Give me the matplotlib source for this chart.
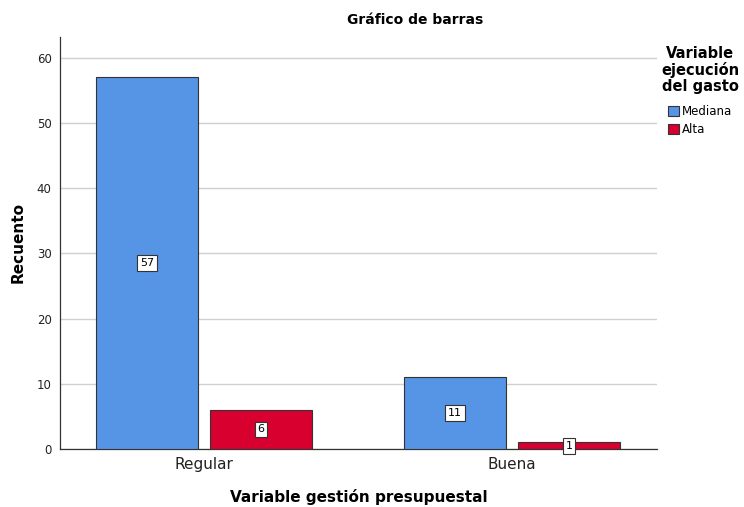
import matplotlib
matplotlib.use("Agg")
import matplotlib.pyplot as plt
from matplotlib.patches import Patch

categories = ["Regular", "Buena"]
series_names = ["Mediana", "Alta"]
mediana = [57, 11]
alta = [6, 1]
yticks = [0, 10, 20, 30, 40, 50, 60]

colors = ["#5694E5", "#D7002F"]

fig = plt.figure(figsize=(7.44, 5.07), dpi=100)
ax = fig.add_axes([60/744, 1-449/507, (657-60)/744, (449-37)/507])

x = list(range(len(categories)))
w = 102/308
off = 57/308
for vals, dx, col in [(mediana, -off, colors[0]), (alta, off, colors[1])]:
    xs = [xi + dx for xi in x]
    ax.bar(xs, vals, width=w, color=col, edgecolor="#333333", linewidth=0.8, zorder=3)
    for xi, v in zip(xs, vals):
        ax.text(xi, v/2, str(v), ha="center", va="center", fontsize=8, zorder=4,
                bbox=dict(boxstyle="square,pad=0.25", fc="white", ec="#333333", lw=0.8))

ax.set_xlim(-144/308, 1 + 145/308)
ax.set_ylim(0, 63.2)
ax.set_yticks(yticks)
ax.set_yticklabels([str(t) for t in yticks], fontsize=8.5, color="#222222")
ax.set_xticks(x)
ax.set_xticklabels(categories, fontsize=11, color="#222222")
ax.tick_params(axis="y", length=0, pad=6)
ax.tick_params(axis="x", length=0, pad=6)
ax.yaxis.grid(True, color="#d0d0d0", linewidth=1, zorder=0)
ax.set_axisbelow(True)
for s in ["top", "right"]:
    ax.spines[s].set_visible(False)
for s in ["left", "bottom"]:
    ax.spines[s].set_color("#333333")
    ax.spines[s].set_linewidth(0.9)

ax.set_xlabel("Variable gestión presupuestal", fontsize=11, fontweight="bold", labelpad=12)
ax.set_ylabel("Recuento", fontsize=11, fontweight="bold", labelpad=8)
fig.text(415/744, 1-20/507, "Gráfico de barras", ha="center", va="center",
         fontsize=10, fontweight="bold")

fig.text(700/744, 1-70/507, "Variable\nejecución\ndel gasto", ha="center", va="center",
         fontsize=10.5, fontweight="bold", linespacing=1.1)

handles = [Patch(facecolor=c, edgecolor="#333333", linewidth=0.8) for c in colors]
leg = fig.legend(handles, series_names, loc="upper left", bbox_to_anchor=(668/744, 1-105/507),
                 frameon=False, fontsize=8.5,
                 handlelength=0.9, handleheight=0.9, handletextpad=0.25, labelspacing=0.45,
                 borderaxespad=0, borderpad=0)

fig.savefig("out.png", dpi=100)
